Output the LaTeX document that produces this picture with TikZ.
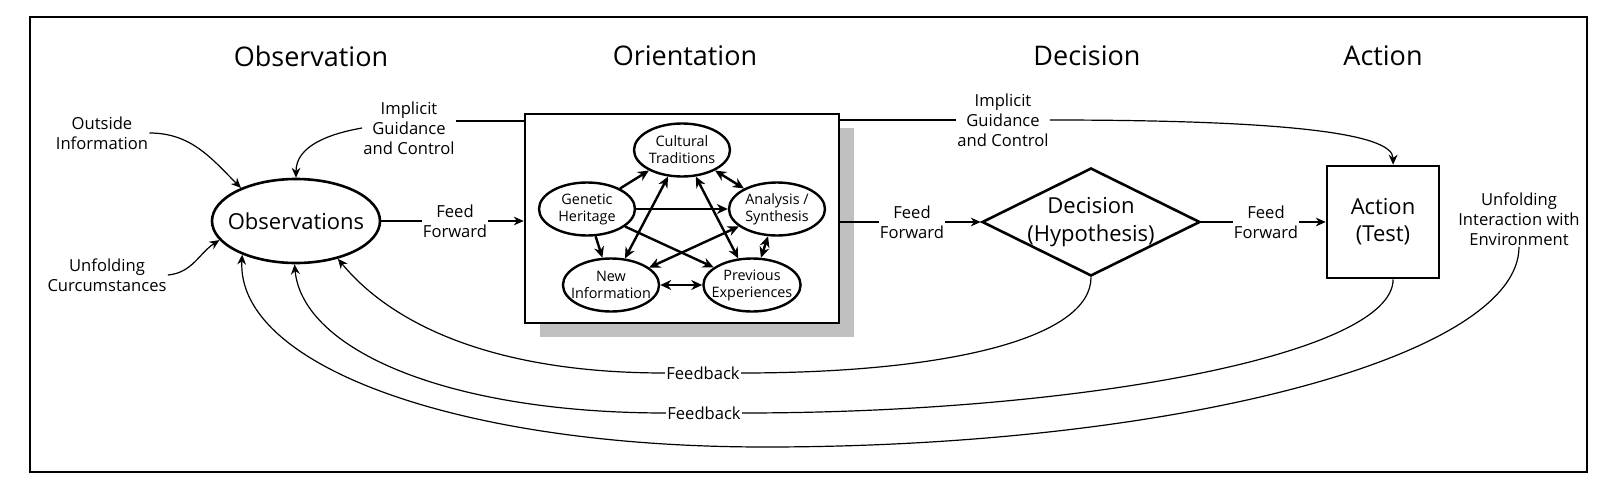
\documentclass[tikz,border=0pt]{standalone}
\definecolor{shadowgray}{RGB}{192,192,192}
\usepackage{fontspec}
\setmainfont{Open Sans}
\usepackage{tikz}
\usetikzlibrary{arrows.meta, shapes.geometric, shadows}

\begin{document}
\begin{tikzpicture}[x=0.5pt, y=0.5pt,
    >={Stealth[length=5pt, width=4.4pt]},
    phase/.style={font=\fontsize{13.5}{16}\selectfont},
    lbl/.style={align=center, inner sep=0.5pt, font=\fontsize{8.3}{10}\selectfont},
    bigtxt/.style={align=center, font=\fontsize{11}{14}\selectfont},
    flow/.style={line width=0.6pt},
    link/.style={line width=1.2pt, >={Stealth[length=5.5pt, width=5pt]}},
    obsell/.style={ellipse, draw, line width=1.3pt, minimum width=84pt, minimum height=42pt, inner xsep=-5pt, inner ysep=0pt, bigtxt},
    factor/.style={ellipse, draw, line width=1.2pt, minimum width=48pt, minimum height=26.5pt, inner xsep=-3pt, inner ysep=0pt, align=center, font=\fontsize{7.2}{8.5}\selectfont},
    orientbox/.style={rectangle, draw, fill=white, line width=1.3pt, minimum width=157pt, minimum height=104.5pt, drop shadow={shadow xshift=7.5pt, shadow yshift=-7pt, fill=shadowgray, opacity=1}},
    decshape/.style={diamond, draw, line width=1.3pt, minimum width=109pt, minimum height=54pt, inner sep=0pt},
    actbox/.style={rectangle, draw, line width=1.3pt, minimum width=56pt, minimum height=56pt, align=center, font=\fontsize{11}{13.5}\selectfont}]
  \useasboundingbox (0,0) rectangle (1600,494);
  \draw[line width=1pt] (30,477) rectangle (1587,22);

  % phase headings
  \node[phase] (hobs) at (311,438) {Observation};
  \node[phase] (hori) at (685,438) {Orientation};
  \node[phase] (hdec) at (1087,438) {Decision};
  \node[phase] (hact) at (1383,438) {Action};

  % observe
  \node[obsell] (obs) at (296,273) {Observations};
  \node[lbl] (oi) at (102,361) {Outside\\Information};
  \node[lbl] (uc) at (107,219) {Unfolding\\Curcumstances};
  \node[lbl] (ig1) at (409,366) {Implicit\\Guidance\\and Control};
  \node[lbl] (ff1) at (455,273) {Feed\\Forward};

  % orient
  \node[orientbox] (orient) at (682,275.5) {};
  \node[factor] (ct) at (682,344) {Cultural\\Traditions};
  \node[factor] (gh) at (587,285) {Genetic\\Heritage};
  \node[factor] (as) at (777,285) {Analysis /\\Synthesis};
  \node[factor] (ni) at (611,209) {New\\Information};
  \node[factor] (pe) at (752,209) {Previous\\Experiences};

  % decide and act
  \node[lbl] (ff2) at (912,272) {Feed\\Forward};
  \node[decshape] (dec) at (1091,272) {};
  \node[bigtxt] (dectxt) at (dec) {Decision\\(Hypothesis)};
  \node[lbl] (ff3) at (1266,272) {Feed\\Forward};
  \node[actbox] (act) at (1383,272) {Action\\(Test)};
  \node[lbl] (ig2) at (1003,374) {Implicit\\Guidance\\and Control};
  \node[lbl] (uie) at (1519,275) {Unfolding\\Interaction with\\Environment};

  % feedback
  \node[lbl] (fb1) at (703,121) {Feedback};
  \node[lbl] (fb2) at (704,81) {Feedback};
  \coordinate (fb3) at (765,47);

  \draw[flow,->] (oi.east) to[out=0,in=135] (obs.149);
  \draw[flow,->] (uc.east) to[out=5,in=-147] (obs.-166);
  \draw[flow,->] (ig1.west) to[out=190,in=90] (obs.north);
  \draw[flow] ([yshift=3.5pt]ig1.east) -- ([yshift=3.5pt]ig1.east -| orient.west);
  \draw[flow] (obs.east) -- (ff1.west);
  \draw[flow,->] (ff1.east) -- (ff1.east -| orient.west);
  \draw[flow] (ff2.west -| orient.east) -- (ff2.west);
  \draw[flow,->] (ff2.east) -- (dec.west);
  \draw[flow] (ig2.west -| orient.east) -- (ig2.west);
  \draw[flow,->] (ig2.east) .. controls +(230,0) and +(0,32) .. (act.80);
  \draw[flow] (dec.east) -- (ff3.west);
  \draw[flow,->] (ff3.east) -- (act.west);

  \draw[flow] (dec.south) .. controls +(0,-60) and +(210,0) .. (fb1.east);
  \draw[flow,->] (fb1.west) .. controls +(-190,0) and +(45,-55) .. (obs.-42);
  \draw[flow] (act.-80) .. controls +(0,-75) and +(340,0) .. (fb2.east);
  \draw[flow,->] (fb2.west) .. controls +(-220,0) and +(8,-85) .. (obs.-92);
  \draw[flow] (uie.south) .. controls +(0,-110) and +(410,0) .. (fb3);
  \draw[flow,->] (fb3) .. controls +(-310,0) and +(-6,-110) .. (obs.-148);

  % links between the orientation factors
  \draw[link,->] (gh) -- (ct);
  \draw[link,->] (gh) -- (as);
  \draw[link,->] (gh) -- (ni);
  \draw[link,->] (gh) -- (pe);
  \draw[link,<->] (ct) -- (ni);
  \draw[link,<->] (ct) -- (as);
  \draw[link,<->] (ct) -- (pe);
  \draw[link,<->] (as) -- (ni);
  \draw[link,<->] (as) -- (pe);
  \draw[link,<->] (ni) -- (pe);
\end{tikzpicture}
\end{document}
